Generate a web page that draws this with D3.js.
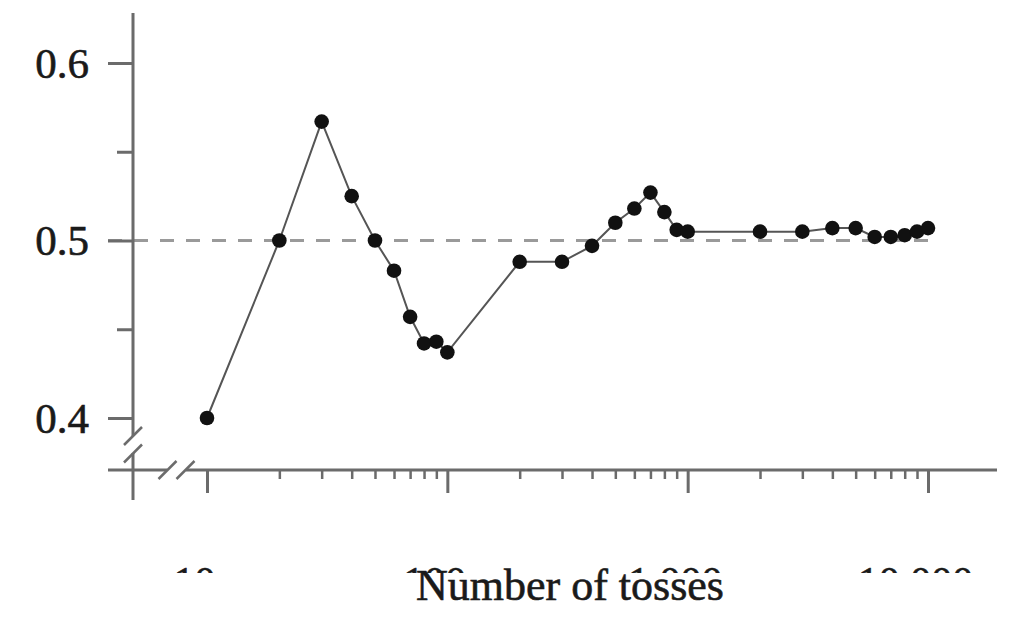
<!DOCTYPE html>
<html>
<head>
<meta charset="utf-8">
<script src="https://cdn.jsdelivr.net/npm/d3@7"></script>
<style>
  html, body { margin: 0; padding: 0; background: #fff; }
  svg { display: block; }
</style>
</head>
<body>
<div id="chart"></div>
<script>
// tosses and running proportion of heads
const tosses = [10, 20, 30, 40, 50, 60, 70, 80, 90, 100,
  200, 300, 400, 500, 600, 700, 800, 900, 1000,
  2000, 3000, 4000, 5000, 6000, 7000, 8000, 9000, 10000];
const proportion = [0.400, 0.500, 0.567, 0.525, 0.500, 0.483, 0.457, 0.442, 0.443, 0.437,
  0.488, 0.488, 0.497, 0.510, 0.518, 0.527, 0.516, 0.506, 0.505,
  0.505, 0.505, 0.507, 0.507, 0.502, 0.502, 0.503, 0.505, 0.507];

const xMajor = [10, 100, 1000, 10000];
const xMinor = [20, 30, 40, 50, 60, 70, 80, 90,
  200, 300, 400, 500, 600, 700, 800, 900,
  2000, 3000, 4000, 5000, 6000, 7000, 8000, 9000];
const yMajor = [0.4, 0.5, 0.6];
const yMinor = [0.45, 0.55];
const reference = 0.5;
const xTitle = "Number of tosses";

const width = 1024, height = 629;
const axisGrey = "#6b6b6b";
const textColor = "#1a1a1a";
const font = "'Liberation Serif', 'Times New Roman', serif";

const data = tosses.map((n, i) => ({ n, p: proportion[i] }));

const svg = d3.select("#chart")
  .append("svg")
  .attr("width", width)
  .attr("height", height);

// === Scales ===
const x = d3.scaleLog().domain([10, 10000]).range([207, 928]);
const y = d3.scaleLinear().domain([0.4, 0.6]).range([418, 63]);

const xAxisY = 470;
const yAxisX = 133;

// clip for the half-hidden tick labels (absolute coords, used on an untransformed g)
svg.append("defs")
  .append("clipPath")
  .attr("id", "labelClip")
  .attr("clipPathUnits", "userSpaceOnUse")
  .append("rect")
  .attr("x", 0)
  .attr("y", 0)
  .attr("width", width)
  .attr("height", 573);

// === Reference line ===
svg.append("line")
  .attr("x1", 108)
  .attr("x2", 930)
  .attr("y1", y(reference))
  .attr("y2", y(reference))
  .attr("stroke", "#9a9a9a")
  .attr("stroke-width", 3)
  .attr("stroke-dasharray", "14,12");

// === Axes ===
const xMajorAxis = svg.append("g")
  .attr("clip-path", "url(#labelClip)")
  .append("g")
  .attr("transform", `translate(0,${xAxisY})`)
  .call(d3.axisBottom(x)
    .tickValues(xMajor)
    .tickSizeInner(23)
    .tickSizeOuter(0)
    .tickFormat(d3.format(",")));

xMajorAxis.select(".domain").remove();
xMajorAxis.selectAll(".tick line")
  .attr("stroke", axisGrey)
  .attr("stroke-width", 3);
xMajorAxis.selectAll(".tick text")
  .attr("x", -13)
  .attr("y", 126)
  .attr("dy", null)
  .style("font-family", font)
  .style("font-size", "42px")
  .attr("fill", textColor)
  .attr("stroke", textColor)
  .attr("stroke-width", 0.6);

const xMinorAxis = svg.append("g")
  .attr("transform", `translate(0,${xAxisY})`)
  .call(d3.axisBottom(x)
    .tickValues(xMinor)
    .tickSizeInner(9)
    .tickSizeOuter(0)
    .tickFormat(""));
xMinorAxis.select(".domain").remove();
xMinorAxis.selectAll(".tick line")
  .attr("stroke", axisGrey)
  .attr("stroke-width", 2.5);

const yMajorAxis = svg.append("g")
  .attr("transform", `translate(${yAxisX},0)`)
  .call(d3.axisLeft(y)
    .tickValues(yMajor)
    .tickSizeInner(25)
    .tickSizeOuter(0)
    .tickPadding(19)
    .tickFormat(d3.format(".1f")));
yMajorAxis.select(".domain").remove();
yMajorAxis.selectAll(".tick line")
  .attr("stroke", axisGrey)
  .attr("stroke-width", 3);
yMajorAxis.selectAll(".tick text")
  .attr("dy", "0.33em")
  .style("font-family", font)
  .style("font-size", "43px")
  .attr("fill", textColor)
  .attr("stroke", textColor)
  .attr("stroke-width", 0.6);

const yMinorAxis = svg.append("g")
  .attr("transform", `translate(${yAxisX},0)`)
  .call(d3.axisLeft(y)
    .tickValues(yMinor)
    .tickSizeInner(16)
    .tickSizeOuter(0)
    .tickFormat(""));
yMinorAxis.select(".domain").remove();
yMinorAxis.selectAll(".tick line")
  .attr("stroke", axisGrey)
  .attr("stroke-width", 3);

// axis lines with break marks
const axisLines = [
  [yAxisX, 13, yAxisX, 436],
  [yAxisX, 453, yAxisX, 500],
  [108, xAxisY, 167, xAxisY],
  [186, xAxisY, 997, xAxisY]
];
svg.append("g")
  .selectAll("line")
  .data(axisLines)
  .join("line")
  .attr("x1", d => d[0])
  .attr("y1", d => d[1])
  .attr("x2", d => d[2])
  .attr("y2", d => d[3])
  .attr("stroke", axisGrey)
  .attr("stroke-width", 3);

const breakMarks = [
  [yAxisX, 436],
  [yAxisX, 453.5],
  [167.5, xAxisY],
  [185.5, xAxisY]
];
svg.append("g")
  .selectAll("line")
  .data(breakMarks)
  .join("line")
  .attr("x1", d => d[0] - 9)
  .attr("y1", d => d[1] + 9)
  .attr("x2", d => d[0] + 9)
  .attr("y2", d => d[1] - 9)
  .attr("stroke", axisGrey)
  .attr("stroke-width", 2.5);

// === Line and points ===
const line = d3.line()
  .x(d => x(d.n))
  .y(d => y(d.p));

svg.append("path")
  .datum(data)
  .attr("d", line)
  .attr("fill", "none")
  .attr("stroke", "#555")
  .attr("stroke-width", 2);

svg.append("g")
  .selectAll("circle")
  .data(data)
  .join("circle")
  .attr("cx", d => x(d.n))
  .attr("cy", d => y(d.p))
  .attr("r", 7.3)
  .attr("fill", "#111");

// === Axis title ===
svg.append("text")
  .attr("x", 570)
  .attr("y", 600)
  .attr("text-anchor", "middle")
  .style("font-family", font)
  .style("font-size", "44px")
  .attr("fill", textColor)
  .attr("stroke", textColor)
  .attr("stroke-width", 0.6)
  .text(xTitle);
</script>
</body>
</html>
